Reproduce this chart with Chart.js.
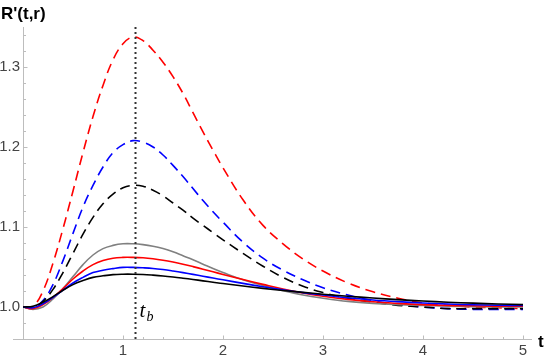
<!DOCTYPE html>
<html>
<head>
<meta charset="utf-8">
<script src="https://cdn.jsdelivr.net/npm/chart.js@4.4.0/dist/chart.umd.min.js"></script>
<style>
  html, body { margin: 0; padding: 0; background: #fff; }
</style>
</head>
<body>
<canvas id="myChart" width="546" height="361"></canvas>
<script>
// valori
var tValues = [0, 0.1, 0.2, 0.3, 0.4, 0.5, 0.6, 0.7, 0.8, 0.9, 1.0, 1.1, 1.2, 1.3, 1.4, 1.5, 1.6, 1.7, 1.8, 1.9, 2.0,
               2.2, 2.4, 2.6, 2.8, 3.0, 3.25, 3.5, 3.75, 4.0, 4.25, 4.5, 4.75, 5.0];

var redDashed = [1.0, 1.001, 1.02, 1.055, 1.098, 1.145, 1.193, 1.238, 1.277, 1.309, 1.329, 1.3375, 1.333, 1.321, 1.306, 1.288, 1.267, 1.243, 1.219, 1.196, 1.174,
                 1.134, 1.102, 1.079, 1.060, 1.045, 1.030, 1.019, 1.011, 1.005, 1.002, 1.000, 0.999, 0.998];
var blueDashed = [1.0, 0.999, 1.008, 1.028, 1.058, 1.092, 1.125, 1.152, 1.175, 1.193, 1.203, 1.208, 1.206, 1.2, 1.19, 1.177, 1.163, 1.148, 1.133, 1.119, 1.106,
                  1.081, 1.061, 1.046, 1.034, 1.024, 1.015, 1.008, 1.003, 1.000, 0.998, 0.997, 0.997, 0.997];
var blackDashed = [1.0, 0.999, 1.007, 1.022, 1.043, 1.067, 1.091, 1.112, 1.129, 1.141, 1.149, 1.152, 1.151, 1.146, 1.139, 1.13, 1.121, 1.111, 1.102, 1.093, 1.084,
                   1.067, 1.051, 1.037, 1.026, 1.018, 1.011, 1.006, 1.002, 1.000, 0.998, 0.998, 0.998, 0.998];
var graySolid = [1.0, 0.997, 1.0, 1.01, 1.023, 1.038, 1.053, 1.065, 1.073, 1.077, 1.079, 1.079, 1.078, 1.076, 1.073, 1.069, 1.064, 1.059, 1.0535, 1.048, 1.043,
                 1.034, 1.027, 1.0205, 1.015, 1.011, 1.007, 1.0045, 1.003, 1.002, 1.001, 1.0005, 1.0, 1.0];
var redSolid = [1.0, 0.998, 1.003, 1.012, 1.023, 1.035, 1.045, 1.053, 1.058, 1.061, 1.062, 1.062, 1.0615, 1.0603, 1.0585, 1.0562, 1.0535, 1.0505, 1.0473, 1.044, 1.0407,
                1.0343, 1.0283, 1.0225, 1.0175, 1.0135, 1.0095, 1.0065, 1.0045, 1.003, 1.002, 1.0015, 1.001, 1.001];
var blueSolid = [1.0, 0.999, 1.004, 1.012, 1.021, 1.03, 1.037, 1.043, 1.046, 1.048, 1.0495, 1.0495, 1.049, 1.0482, 1.0468, 1.045, 1.043, 1.0408, 1.0385, 1.0362, 1.034,
                 1.0295, 1.0253, 1.0215, 1.018, 1.015, 1.0115, 1.0088, 1.0067, 1.005, 1.0037, 1.0028, 1.0022, 1.0018];
var blackSolid = [1.0, 1.001, 1.006, 1.013, 1.021, 1.028, 1.033, 1.037, 1.039, 1.0405, 1.041, 1.041, 1.0406, 1.0398, 1.0388, 1.0375, 1.036, 1.0344, 1.0327, 1.031, 1.0293,
                  1.0262, 1.0233, 1.0207, 1.0183, 1.016, 1.0135, 1.0112, 1.0092, 1.0075, 1.006, 1.0048, 1.0038, 1.003];

var tB = 1.125;                 // linea verticale t_b
var xTickLabels = [1, 2, 3, 4, 5];
var yTickLabels = [1.0, 1.1, 1.2, 1.3];

function toPoints(values) {
  return values.map(function(v, i) { return { x: tValues[i], y: v }; });
}

function curve(values, color, dashed) {
  return {
    data: toPoints(values),
    borderColor: color,
    borderWidth: 1.6,
    borderDash: dashed ? [10, 6] : [],
    pointRadius: 0,
    fill: false,
    tension: 0.4
  };
}

// assi stile Mathematica: linee grigie e tacche verso l'interno
var axesPlugin = {
  id: 'axesPlugin',
  beforeDatasetsDraw: function(chart) {
    var ctx = chart.ctx, area = chart.chartArea;
    var xs = chart.scales.x, ys = chart.scales.y;
    var x0 = Math.round(xs.getPixelForValue(0)) + 0.5;
    var yb = Math.round(area.bottom) + 0.5;
    ctx.save();
    ctx.strokeStyle = '#bdbdbd';
    ctx.lineWidth = 1;
    ctx.beginPath();
    ctx.moveTo(area.left - 10, yb);
    ctx.lineTo(area.right, yb);
    ctx.moveTo(x0, area.top);
    ctx.lineTo(x0, yb);
    xs.ticks.forEach(function(tk) {
      if (tk.value < 0.01) return;
      var px = Math.round(xs.getPixelForValue(tk.value)) + 0.5;
      var len = tk.label ? 4 : 2.5;
      ctx.moveTo(px, yb);
      ctx.lineTo(px, yb - len);
    });
    ys.ticks.forEach(function(tk) {
      var py = Math.round(ys.getPixelForValue(tk.value)) + 0.5;
      var len = tk.label ? 4 : 2.5;
      ctx.moveTo(x0, py);
      ctx.lineTo(x0 + len, py);
    });
    ctx.stroke();
    ctx.restore();
  },
  afterDraw: function(chart) {
    var ctx = chart.ctx;
    var xs = chart.scales.x;
    ctx.save();
    ctx.fillStyle = '#000';
    ctx.textBaseline = 'alphabetic';
    ctx.font = 'bold 17px "Liberation Sans", Arial, sans-serif';
    ctx.fillText("R'(t,r)", 1, 19);
    ctx.fillText('t', 538, 347);
    var px = xs.getPixelForValue(tB);
    ctx.font = 'italic 21px "Liberation Serif", "Times New Roman", serif';
    ctx.fillText('t', px + 4, 317);
    ctx.font = 'italic 14px "Liberation Serif", "Times New Roman", serif';
    ctx.fillText('b', px + 11, 321);
    ctx.restore();
  }
};

var ctx = document.getElementById('myChart').getContext('2d');
var chart = new Chart(ctx, {
  type: 'line',
  data: {
    datasets: [
      {
        data: [{ x: tB, y: 0.96 }, { x: tB, y: 1.35 }],
        borderColor: '#333333',
        borderWidth: 2,
        borderDash: [2, 3],
        borderCapStyle: 'butt',
        pointRadius: 0,
        fill: false
      },
      curve(blackSolid, '#000000', false),
      curve(blueSolid, '#0000ff', false),
      curve(redSolid, '#ff0000', false),
      curve(graySolid, '#808080', false),
      curve(blackDashed, '#000000', true),
      curve(blueDashed, '#0000ff', true),
      curve(redDashed, '#ff0000', true)
    ]
  },
  options: {
    responsive: false,
    animation: false,
    devicePixelRatio: 1,
    layout: { padding: { left: 0, right: 14, top: 27, bottom: 0 } },
    plugins: { legend: { display: false }, tooltip: { enabled: false } },
    scales: {
      x: {
        type: 'linear',
        min: 0,
        max: 5.09,
        grid: { display: false, drawTicks: false },
        border: { display: false },
        ticks: {
          stepSize: 0.2,
          autoSkip: false,
          includeBounds: false,
          maxRotation: 0,
          padding: 3,
          color: '#444',
          font: { family: '"Liberation Sans", Arial, sans-serif', size: 15 },
          callback: function(v) {
            var r = Math.round(v);
            return (Math.abs(v - r) < 1e-6 && xTickLabels.indexOf(r) >= 0) ? String(r) : '';
          }
        },
        afterFit: function(scale) { scale.height = 22; }
      },
      y: {
        type: 'linear',
        min: 0.96,
        max: 1.35,
        grid: { display: false, drawTicks: false },
        border: { display: false },
        ticks: {
          stepSize: 0.02,
          autoSkip: false,
          includeBounds: false,
          padding: 3,
          color: '#444',
          font: { family: '"Liberation Sans", Arial, sans-serif', size: 15 },
          callback: function(v) {
            for (var i = 0; i < yTickLabels.length; i++) {
              if (Math.abs(v - yTickLabels[i]) < 1e-6) return yTickLabels[i].toFixed(1);
            }
            return '';
          }
        },
        afterFit: function(scale) { scale.width = 23; }
      }
    }
  },
  plugins: [axesPlugin]
});
</script>
</body>
</html>
